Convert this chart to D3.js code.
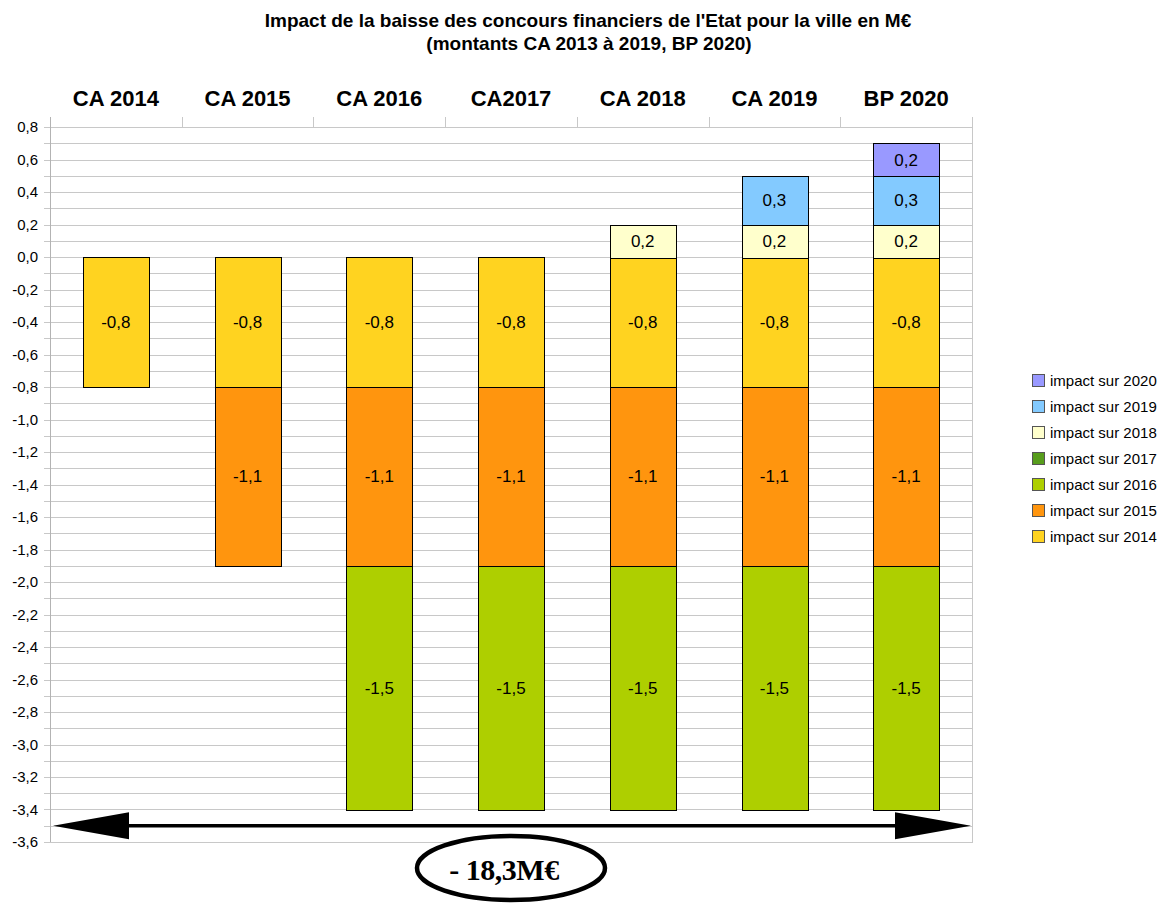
<!DOCTYPE html>
<html>
<head>
<meta charset="utf-8">
<script src="https://cdn.jsdelivr.net/npm/d3@7"></script>
<style>
  html, body { margin: 0; padding: 0; background: #fff; }
  svg { display: block; font-family: "Liberation Sans", Arial, sans-serif; }
</style>
</head>
<body>
<div id="viz"></div>
<script>
const categories = ["CA 2014", "CA 2015", "CA 2016", "CA2017", "CA 2018", "CA 2019", "BP 2020"];
const seriesNames = ["impact sur 2014", "impact sur 2015", "impact sur 2016", "impact sur 2017",
  "impact sur 2018", "impact sur 2019", "impact sur 2020"];
const impact2014 = [-0.8, -0.8, -0.8, -0.8, -0.8, -0.8, -0.8];
const impact2015 = [0, -1.1, -1.1, -1.1, -1.1, -1.1, -1.1];
const impact2016 = [0, 0, -1.5, -1.5, -1.5, -1.5, -1.5];
const impact2017 = [0, 0, 0, 0, 0, 0, 0];
const impact2018 = [0, 0, 0, 0, 0.2, 0.2, 0.2];
const impact2019 = [0, 0, 0, 0, 0, 0.3, 0.3];
const impact2020 = [0, 0, 0, 0, 0, 0, 0.2];
const seriesColors = ["#ffd320", "#ff950e", "#aecf00", "#579d1c", "#ffffcc", "#83caff", "#9999ff"];
const yTicks = [0.8, 0.6, 0.4, 0.2, 0, -0.2, -0.4, -0.6, -0.8, -1.0, -1.2, -1.4, -1.6, -1.8, -2.0,
  -2.2, -2.4, -2.6, -2.8, -3.0, -3.2, -3.4, -3.6];
const totalLabel = "- 18,3M€";

function drawChart() {
  const seriesValues = [impact2014, impact2015, impact2016, impact2017, impact2018, impact2019, impact2020];
  const rows = categories.map((c, i) => {
    const r = { cat: c };
    seriesNames.forEach((s, k) => { r[s] = seriesValues[k][i]; });
    return r;
  });

  const W = 1160, H = 905;
  const pl = 50, pr = 972, pt = 127, pb = 842;
  const fmt = (v) => d3.format(".1f")(v).replace(".", ",").replace("−", "-");

  const svg = d3.select("#viz").append("svg").attr("width", W).attr("height", H);

  const x = d3.scaleBand().domain(categories).range([pl, pr]).padding(0);
  const y = d3.scaleLinear().domain([-3.6, 0.8]).range([pb, pt]);

  // grille tous les 0,1
  const minor = d3.range(-36, 9).map((k) => k / 10);
  svg.append("g").selectAll("line").data(minor).join("line")
    .attr("x1", pl - 6).attr("x2", pr)
    .attr("y1", (d) => Math.round(y(d)) + 0.5).attr("y2", (d) => Math.round(y(d)) + 0.5)
    .attr("stroke", "#c8c8c8").attr("stroke-width", 1);

  // axe gauche
  const yAxis = d3.axisLeft(y).tickValues(yTicks).tickSize(0).tickPadding(12).tickFormat(fmt);
  const ga = svg.append("g").attr("transform", `translate(${pl},0)`).call(yAxis);
  ga.select(".domain").remove();
  ga.selectAll("text").attr("font-size", 15).attr("fill", "#000")
    .attr("font-family", "Liberation Sans, Arial, sans-serif");

  svg.append("line").attr("x1", pl + 0.5).attr("x2", pl + 0.5).attr("y1", pt - 10).attr("y2", pb)
    .attr("stroke", "#b3b3b3");
  svg.append("line").attr("x1", pr + 0.5).attr("x2", pr + 0.5).attr("y1", pt - 10).attr("y2", pb + 1)
    .attr("stroke", "#c8c8c8");

  // axe des catégories en haut
  const xAxis = d3.axisTop(x).tickSize(0).tickPadding(0);
  const gx = svg.append("g").attr("transform", `translate(0,${pt})`).call(xAxis);
  gx.select(".domain").remove();
  gx.selectAll("text").attr("font-size", 22).attr("font-weight", "bold").attr("fill", "#000")
    .attr("y", -21).attr("font-family", "Liberation Sans, Arial, sans-serif");
  svg.append("g").selectAll("line").data(categories.slice(1)).join("line")
    .attr("x1", (d) => Math.round(x(d)) + 0.5).attr("x2", (d) => Math.round(x(d)) + 0.5)
    .attr("y1", pt - 10).attr("y2", pt)
    .attr("stroke", "#c8c8c8");

  // barres empilées
  const stack = d3.stack().keys(seriesNames).offset(d3.stackOffsetDiverging);
  const layers = stack(rows);
  const bw = x.bandwidth() * 0.5;
  const gb = svg.append("g");
  layers.forEach((layer, k) => {
    const segs = layer.filter((d) => d[1] - d[0] !== 0).map((d) => ({ d, k }));
    gb.append("g").selectAll("rect").data(segs).join("rect")
      .attr("x", (s) => Math.round(x(s.d.data.cat) + (x.bandwidth() - bw) / 2) + 0.5)
      .attr("width", Math.round(bw))
      .attr("y", (s) => Math.round(y(Math.max(s.d[0], s.d[1]))) + 0.5)
      .attr("height", (s) => Math.round(Math.abs(y(s.d[0]) - y(s.d[1]))))
      .attr("fill", seriesColors[k])
      .attr("stroke", "#000").attr("stroke-width", 1);
    gb.append("g").selectAll("text").data(segs).join("text")
      .attr("x", (s) => x(s.d.data.cat) + x.bandwidth() / 2)
      .attr("y", (s) => y((s.d[0] + s.d[1]) / 2))
      .attr("dy", "0.36em")
      .attr("text-anchor", "middle")
      .attr("font-size", 17)
      .text((s) => fmt(s.d.data[seriesNames[k]]));
  });

  // flèche
  const ay = y(-3.5);
  const head = 76, hh = 13.5;
  const ax0 = pl + 3, ax1 = pr - 1;
  svg.append("line").attr("x1", ax0 + head - 2).attr("x2", ax1 - head + 2)
    .attr("y1", ay).attr("y2", ay).attr("stroke", "#000").attr("stroke-width", 3.5);
  svg.append("path").attr("fill", "#000")
    .attr("d", `M${ax0},${ay} L${ax0 + head},${ay - hh} L${ax0 + head},${ay + hh} Z`);
  svg.append("path").attr("fill", "#000")
    .attr("d", `M${ax1},${ay} L${ax1 - head},${ay - hh} L${ax1 - head},${ay + hh} Z`);

  // total
  svg.append("ellipse").attr("cx", 511).attr("cy", 868).attr("rx", 94).attr("ry", 32)
    .attr("fill", "#fff").attr("stroke", "#000").attr("stroke-width", 4.5);
  svg.append("text").attr("x", 504).attr("y", 880).attr("text-anchor", "middle")
    .attr("font-family", "Liberation Serif, 'Times New Roman', serif")
    .attr("font-weight", "bold").attr("font-size", 30).attr("letter-spacing", -0.5)
    .text(totalLabel);

  // titre
  const title = svg.append("text").attr("text-anchor", "middle").attr("font-weight", "bold")
    .attr("font-size", 19);
  title.append("tspan").attr("x", 588).attr("y", 27)
    .text("Impact de la baisse des concours financiers de l'Etat pour la ville en M€");
  title.append("tspan").attr("x", 589).attr("y", 50)
    .text("(montants CA 2013 à 2019, BP 2020)");

  // légende
  const lg = svg.append("g").attr("transform", "translate(1032,381)");
  const legendItems = seriesNames.map((s, k) => ({ s, c: seriesColors[k] })).reverse();
  const li = lg.selectAll("g").data(legendItems).join("g")
    .attr("transform", (d, i) => `translate(0,${i * 26})`);
  li.append("rect").attr("x", 0.5).attr("y", -6.5).attr("width", 12).attr("height", 12)
    .attr("fill", (d) => d.c).attr("stroke", "#555");
  li.append("text").attr("x", 18).attr("dy", "0.36em").attr("font-size", 15).text((d) => d.s);
}

drawChart();
</script>
</body>
</html>
